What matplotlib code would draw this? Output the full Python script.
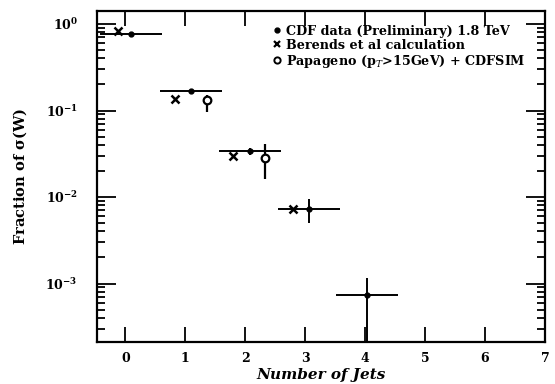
import matplotlib.pyplot as plt
import matplotlib.ticker as plticker
from matplotlib.lines import Line2D
import numpy as np

# CDF W + n jets: fraction of sigma(W) per jet multiplicity
cdf_x = [0.1, 1.1, 2.08, 3.06, 4.03]
cdf_y = [0.77, 0.17, 0.034, 0.0072, 0.00074]
cdf_lo = [0.02, 0.008, 0.003, 0.0022, 0.00064]
cdf_hi = [0.02, 0.008, 0.003, 0.0023, 0.00043]
cdf_xerr = 0.52

berends_x = [-0.13, 0.83, 1.8, 2.8]
berends_y = [0.83, 0.137, 0.030, 0.0072]

papageno_x = [1.37, 2.33]
papageno_y = [0.134, 0.028]
papageno_lo = [0.037, 0.012]
papageno_hi = [0.016, 0.013]

legend_labels = ['CDF data (Preliminary) 1.8 TeV',
                 'Berends et al calculation',
                 r'Papageno (p$_T$>15GeV) + CDFSIM']

plt.rcParams['font.family'] = ['DejaVu Serif']
plt.rcParams['mathtext.fontset'] = 'dejavuserif'

fig = plt.figure(figsize=(5.55, 3.84), dpi=100)
ax = fig.add_axes([0.175, 0.109, 0.807, 0.862])

ax.set_yscale('log')
ax.set_xlim(-0.47, 7.0)
ax.set_ylim(2.1e-4, 1.41)

ax.errorbar(cdf_x, cdf_y, yerr=[cdf_lo, cdf_hi], xerr=cdf_xerr,
            fmt='o', ms=3.5, color='k', ecolor='k', elinewidth=1.4, capsize=0)
ax.plot(berends_x, berends_y, 'x', ms=6, mew=1.8, color='k')
ax.errorbar(papageno_x, papageno_y, yerr=[papageno_lo, papageno_hi],
            fmt='o', ms=5.5, mfc='white', mec='k', mew=1.6,
            ecolor='k', elinewidth=1.6, capsize=0)

ax.xaxis.set_major_locator(plticker.MultipleLocator(1))
ax.yaxis.set_major_locator(plticker.LogLocator(base=10))
ax.yaxis.set_minor_locator(plticker.LogLocator(base=10, subs=np.arange(2, 10)))
ax.yaxis.set_minor_formatter(plticker.NullFormatter())

ax.tick_params(which='both', direction='in', top=True, right=True, width=1.3)
ax.tick_params(axis='x', which='major', length=11, pad=7)
ax.tick_params(axis='y', which='major', length=14, pad=14)
ax.tick_params(axis='y', which='minor', length=6)
for lab in ax.get_xticklabels() + ax.get_yticklabels():
    lab.set_fontweight('bold')
    lab.set_fontsize(9)

for sp in ax.spines.values():
    sp.set_linewidth(1.6)

ax.set_xlabel('Number of Jets', fontsize=11, fontstyle='italic',
              fontweight='bold', labelpad=2)
ax.set_ylabel(r'Fraction of $\mathbf{\sigma}$(W)', fontsize=10.5,
              fontweight='bold', labelpad=12)

# legend shows markers only
handles = [
    Line2D([], [], ls='none', marker='o', ms=3.5, color='k'),
    Line2D([], [], ls='none', marker='x', ms=5, mew=1.6, color='k'),
    Line2D([], [], ls='none', marker='o', ms=4.5, mfc='white', mec='k', mew=1.4),
]
ax.legend(handles, legend_labels, loc='upper left',
          bbox_to_anchor=(0.383, 0.975), frameon=False,
          handlelength=0.5, handletextpad=0.45, labelspacing=0.08,
          borderaxespad=0, prop={'weight': 'bold', 'size': 9.2})

fig.savefig('out.png', dpi=100)
